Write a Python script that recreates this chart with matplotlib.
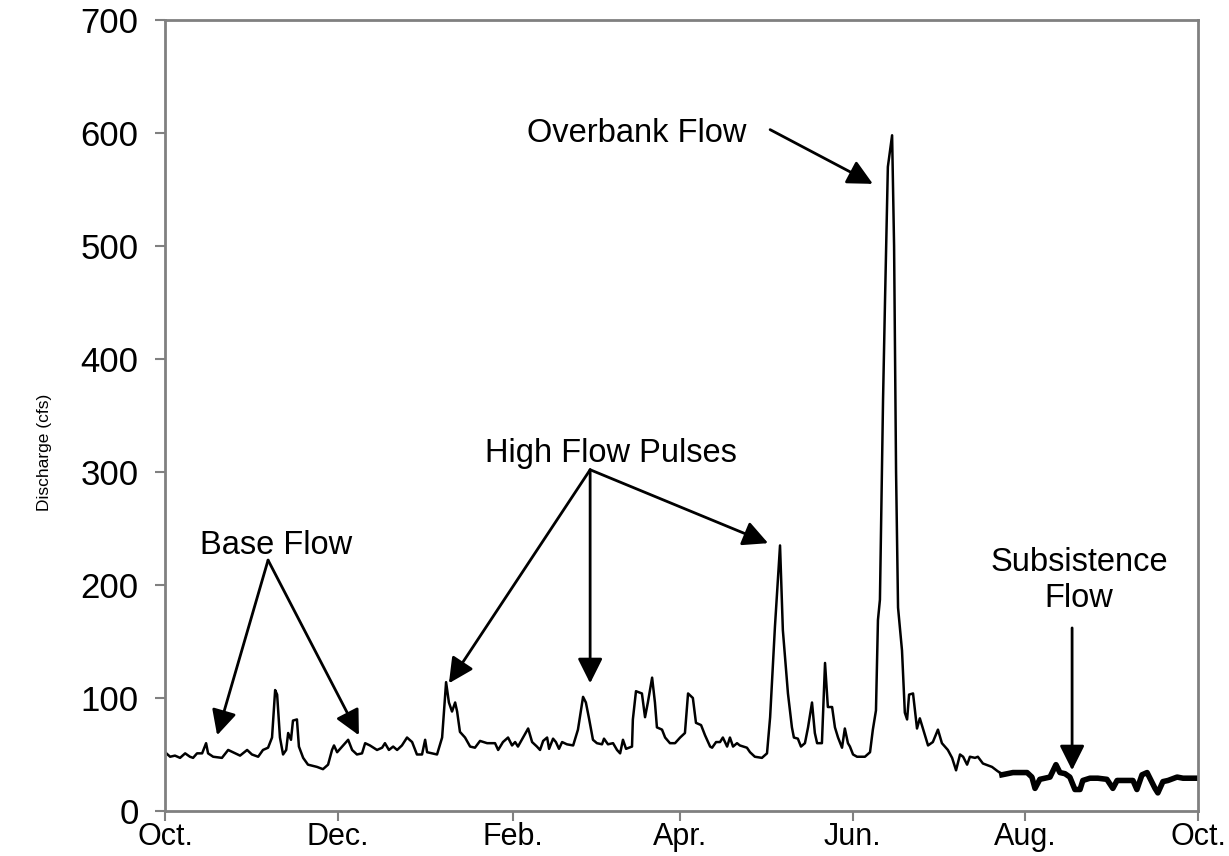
import matplotlib.pyplot as plt

plt.rcParams['font.family'] = ['Liberation Sans', 'DejaVu Sans']

# daily discharge (day 0 = Oct. 1)
days = [0.0, 1.8, 3.5, 5.3, 7.1, 8.8, 9.9, 11.3, 13.1, 14.5, 15.2, 17.0, 20.1, 22.3, 24.0,
        26.5, 29.0, 30.7, 32.9, 34.6, 36.4, 37.8, 38.9, 39.6, 40.6, 41.7, 42.8, 43.5, 44.5,
        45.2, 46.6, 47.3, 48.8, 50.5, 53.7, 55.8, 57.6, 59.0, 59.7, 60.8, 62.9, 64.7, 66.1,
        67.8, 69.6, 70.7, 72.4, 74.9, 76.7, 77.7, 79.1, 80.6, 82.0, 83.7, 85.5, 87.3, 89.0,
        90.8, 91.9, 92.6, 94.3, 96.1, 97.9, 99.3, 100.3, 101.4, 102.5, 103.2, 104.2, 106.0,
        107.8, 109.5, 111.3, 113.8, 116.6, 117.7, 119.4, 121.2, 122.6, 123.7, 124.7, 126.5,
        128.3, 129.7, 131.4, 132.5, 133.6, 135.0, 135.7, 137.1, 138.1, 139.2, 140.3, 142.0,
        144.2, 145.9, 147.7, 148.7, 149.8, 151.2, 152.6, 154.4, 155.1, 156.5, 158.3, 159.7,
        160.8, 161.8, 162.9, 165.0, 165.3, 166.4, 168.5, 169.6, 170.6, 172.1, 173.1, 173.8,
        175.6, 176.7, 178.4, 180.2, 182.0, 183.7, 184.8, 186.5, 187.6, 189.4, 190.8, 192.6,
        193.3, 194.7, 196.1, 197.1, 198.6, 199.6, 200.7, 202.1, 203.1, 205.6, 206.7, 208.4,
        210.9, 212.7, 213.8, 215.5, 217.3, 218.3, 220.1, 221.5, 222.2, 223.6, 224.7, 226.1,
        227.2, 228.6, 229.6, 230.4, 232.1, 233.2, 234.2, 235.7, 236.7, 237.8, 239.2, 240.2,
        241.3, 242.0, 243.1, 244.5, 247.3, 249.1, 250.1, 251.2, 251.9, 252.6, 253.7, 254.4,
        255.4, 256.9, 257.6, 258.3, 259.0, 260.4, 261.4, 262.2, 262.9, 264.3, 265.7, 266.7,
        267.8, 269.6, 271.3, 273.1, 274.5, 276.6, 278.1, 279.5, 280.9, 282.0, 283.4, 284.4,
        286.2, 287.2, 289.0, 292.2, 294.3, 295.7]
flow = [52, 48, 49, 47, 51, 48, 47, 51, 51, 60, 51, 48, 47, 54, 52,
        49, 54, 50, 48, 54, 56, 65, 107, 103, 65, 50, 54, 69, 63,
        80, 81, 57, 47, 41, 39, 37, 41, 54, 58, 52, 58, 63, 54,
        50, 51, 60, 58, 54, 56, 60, 54, 57, 54, 58, 65, 61, 50,
        50, 63, 52, 51, 50, 65, 114, 96, 88, 96, 88, 70, 65,
        57, 56, 62, 60, 60, 54, 61, 65, 58, 61, 57, 65,
        73, 61, 57, 54, 62, 65, 55, 64, 61, 55, 61, 59,
        58, 72, 101, 96, 82, 63, 60, 59, 64, 59, 60, 54,
        51, 63, 55, 57, 81, 106, 104, 83, 96, 118, 96, 74,
        72, 65, 60, 60, 65, 69, 104, 100, 78, 76, 67, 57,
        56, 61, 61, 65, 57, 65, 57, 60, 58, 56, 52, 48,
        47, 51, 83, 163, 235, 160, 104, 74, 65, 64, 57, 60,
        74, 96, 69, 60, 60, 131, 92, 92, 74, 65, 56, 73,
        60, 57, 50, 48, 48, 52, 72, 89, 169, 187, 364, 452,
        570, 598, 500, 300, 180, 142, 87, 81, 103, 104, 73, 82,
        73, 58, 61, 72, 60, 54, 47, 36, 50, 48, 41, 48,
        47, 48, 42, 39, 35, 33]

# subsistence flow period, drawn heavier
sub_days = [295.7, 299.6, 304.6, 306.3, 307.4, 309.1, 312.7, 314.8, 316.2, 318.0, 319.7,
            321.5, 323.3, 324.3, 326.8, 329.6, 332.8, 334.9, 336.4, 339.9, 342.0, 343.4,
            345.2, 347.0, 348.0, 349.8, 350.8, 352.6, 354.4, 357.6, 359.7, 365.0]
sub_flow = [32, 34, 34, 30, 20, 28, 30, 41, 34, 33, 30,
            19, 19, 27, 29, 29, 28, 20, 27, 27, 27, 19,
            32, 34, 29, 20, 16, 26, 27, 30, 29, 29]

month_pos = [0, 61, 123, 182, 243, 304, 365]
month_labels = ['Oct.', 'Dec.', 'Feb.', 'Apr.', 'Jun.', 'Aug.', 'Oct.']

fig = plt.figure(figsize=(12.29, 8.56), dpi=100)
ax = fig.add_axes([0.1343, 0.0526, 0.8405, 0.924])

ax.plot(days, flow, color='black', lw=1.8)
ax.plot(sub_days, sub_flow, color='black', lw=4, solid_joinstyle='round')

ax.set_xlim(0, 365)
ax.set_ylim(0, 700)
ax.set_yticks(range(0, 701, 100))
ax.set_xticks(month_pos)
ax.set_xticklabels(month_labels)
ax.tick_params(axis='both', length=7, width=1.5, color='#808080', direction='out')
ax.tick_params(axis='y', labelsize=25, pad=12)
ax.tick_params(axis='x', labelsize=22, pad=1)
for s in ax.spines.values():
    s.set_color('#808080')
    s.set_linewidth(2)
ax.set_ylabel('Discharge (cfs)', fontsize=12.5,
              family=['Liberation Sans Narrow', 'Liberation Sans'])
ax.yaxis.set_label_coords(-0.109, 0.454)

arr = dict(arrowstyle='-|>', color='black', lw=2, mutation_scale=38, shrinkA=0, shrinkB=0)
txt = dict(fontsize=23.5, ha='center', va='center')

ax.text(166.8, 600, 'Overbank Flow', **txt)
ax.annotate('', xy=(250.1, 555), xytext=(213.8, 603), arrowprops=arr)

ax.text(157.6, 316, 'High Flow Pulses', **txt)
for hx, hy in [(100.3, 113), (150.2, 113), (213.1, 237)]:
    ax.annotate('', xy=(hx, hy), xytext=(150.2, 302), arrowprops=arr)

ax.text(39.2, 235, 'Base Flow', **txt)
for hx in [18.4, 68.5]:
    ax.annotate('', xy=(hx, 67), xytext=(36.4, 222), arrowprops=arr)

ax.text(322.9, 204, 'Subsistence\nFlow', linespacing=1.2, **txt)
ax.annotate('', xy=(320.5, 36), xytext=(320.5, 162), arrowprops=arr)

fig.savefig('out.png', dpi=100)
